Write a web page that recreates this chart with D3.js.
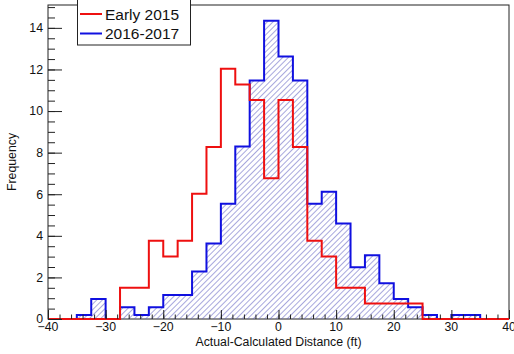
<!DOCTYPE html>
<html lang="en">
<head>
    <meta charset="UTF-8">
    <title>Actual-Calculated Distance</title>
    <script src="https://d3js.org/d3.v7.min.js"></script>
    <style>
        body{
            margin: 0;
            background: #fff;
        }
        svg text{
            font-family: "Liberation Sans", Arial, Helvetica, sans-serif;
            fill: #111;
        }
    </style>
</head>
<body>
    <div id="chart"></div>

    <script>
        // bins are 2.5 ft wide, from -40 to 40 (lower edge of each bin)
        const binWidth = 2.5;
        const binLow = d3.range(-40, 40, binWidth);

        // frequencies, one per bin
        const early2015 = [0, 0, 0, 0, 0, 1.50, 1.50, 3.76, 3.01, 3.76, 6.02, 8.27, 12.03, 11.28, 10.53, 6.77,
                           10.53, 8.27, 3.76, 3.01, 1.50, 1.50, 0.75, 0.75, 0.75, 0.75, 0, 0, 0, 0, 0, 0];
        const y2016_2017 = [0, 0, 0.19, 0.96, 0, 0.57, 0.19, 0.57, 1.15, 1.15, 2.29, 3.63, 5.54, 8.30, 11.47, 14.34,
                            12.62, 11.47, 5.54, 6.12, 4.59, 2.49, 3.06, 1.72, 0.96, 0.57, 0.19, 0, 0.19, 0.19, 0, 0];

        const seriesNames = ["Early 2015", "2016-2017"];
        const xTicks = [-40, -30, -20, -10, 0, 10, 20, 30, 40];
        const yTicks = [0, 2, 4, 6, 8, 10, 12, 14];

        const width = 514;
        const height = 354;
        const frame = {left: 48, right: 509, top: 5, bottom: 319};

        const x = d3.scaleLinear().domain([-40, 40]).range([frame.left, frame.right]);
        const y = d3.scaleLinear().domain([0, 15.1]).range([frame.bottom, frame.top]);

        const svg = d3.select('#chart')
            .append('svg')
            .attr('width', width)
            .attr('height', height);

        // hatch pattern for the 2016-2017 histogram
        const pattern = svg.append('defs')
            .append('pattern')
            .attr('id', 'hatch')
            .attr('patternUnits', 'userSpaceOnUse')
            .attr('width', 4)
            .attr('height', 4)
            .attr('patternTransform', 'rotate(45)');
        pattern.append('line')
            .attr('x1', 0).attr('y1', 0)
            .attr('x2', 0).attr('y2', 4)
            .attr('stroke', '#5e5ec0')
            .attr('stroke-width', 1.1);

        // turn bin values into step points (last edge repeats the last value)
        function stepPoints(values) {
            const pts = binLow.map((b, i) => ({edge: b, v: values[i]}));
            pts.push({edge: 40, v: values[values.length - 1]});
            return pts;
        }

        const area = d3.area()
            .x(d => x(d.edge))
            .y0(y(0))
            .y1(d => y(d.v))
            .curve(d3.curveStepAfter);

        const line = d3.line()
            .x(d => x(d.edge))
            .y(d => y(d.v))
            .curve(d3.curveStepAfter);

        // frame
        svg.append('rect')
            .attr('x', frame.left)
            .attr('y', frame.top)
            .attr('width', frame.right - frame.left)
            .attr('height', frame.bottom - frame.top)
            .attr('fill', 'none')
            .attr('stroke', '#222')
            .attr('stroke-width', 1);

        // 2016-2017: hatched fill + blue outline
        svg.append('path')
            .datum(stepPoints(y2016_2017))
            .attr('d', area)
            .attr('fill', 'url(#hatch)');

        svg.append('path')
            .datum(stepPoints(y2016_2017))
            .attr('d', line)
            .attr('fill', 'none')
            .attr('stroke', '#1010e0')
            .attr('stroke-width', 2);

        // Early 2015: red outline on top
        svg.append('path')
            .datum(stepPoints(early2015))
            .attr('d', line)
            .attr('fill', 'none')
            .attr('stroke', '#ee1010')
            .attr('stroke-width', 2);

        // x axis: ticks pointing up into the frame
        svg.append('g')
            .attr('transform', `translate(0,${frame.bottom})`)
            .call(d3.axisTop(x).tickValues(xTicks).tickSize(9).tickFormat(''))
            .call(g => g.select('.domain').remove())
            .call(g => g.selectAll('line').attr('stroke', '#222'));

        svg.append('g')
            .attr('transform', `translate(0,${frame.bottom})`)
            .call(d3.axisTop(x).tickValues(d3.range(-40, 40.1, 2)).tickSize(4.5).tickFormat(''))
            .call(g => g.select('.domain').remove())
            .call(g => g.selectAll('line').attr('stroke', '#222'));

        svg.append('g')
            .selectAll('text')
            .data(xTicks)
            .enter().append('text')
            .attr('x', d => x(d))
            .attr('y', 331)
            .attr('text-anchor', 'middle')
            .style('font-size', '12.3px')
            .text(d => d < 0 ? '\u2212' + Math.abs(d) : d);

        // y axis: ticks pointing right into the frame
        svg.append('g')
            .attr('transform', `translate(${frame.left},0)`)
            .call(d3.axisRight(y).tickValues(yTicks).tickSize(14).tickFormat(''))
            .call(g => g.select('.domain').remove())
            .call(g => g.selectAll('line').attr('stroke', '#222'));

        svg.append('g')
            .attr('transform', `translate(${frame.left},0)`)
            .call(d3.axisRight(y).tickValues(d3.range(0, 15.01, 0.5)).tickSize(7).tickFormat(''))
            .call(g => g.select('.domain').remove())
            .call(g => g.selectAll('line').attr('stroke', '#222'));

        svg.append('g')
            .selectAll('text')
            .data(yTicks)
            .enter().append('text')
            .attr('x', 43)
            .attr('y', d => y(d) + 4.3)
            .attr('text-anchor', 'end')
            .style('font-size', '12.3px')
            .text(d => d);

        // axis titles
        svg.append('text')
            .attr('x', (frame.left + frame.right) / 2)
            .attr('y', 346)
            .attr('text-anchor', 'middle')
            .style('font-size', '12.3px')
            .text('Actual-Calculated Distance (ft)');

        svg.append('text')
            .attr('transform', `translate(16,${(frame.top + frame.bottom) / 2}) rotate(-90)`)
            .attr('text-anchor', 'middle')
            .style('font-size', '12.3px')
            .text('Frequency');

        // legend
        const legend = svg.append('g');
        legend.append('rect')
            .attr('x', 77.5)
            .attr('y', -1)
            .attr('width', 113)
            .attr('height', 46)
            .attr('fill', '#fff')
            .attr('stroke', '#222')
            .attr('stroke-width', 1);

        const legendColors = ['#ee1010', '#1010e0'];
        seriesNames.forEach((name, i) => {
            const ly = 14 + i * 19.5;
            legend.append('line')
                .attr('x1', 80).attr('x2', 102)
                .attr('y1', ly).attr('y2', ly)
                .attr('stroke', legendColors[i])
                .attr('stroke-width', 2);
            legend.append('text')
                .attr('x', 105)
                .attr('y', ly + 5.5)
                .style('font-size', '15.5px')
                .text(name);
        });
    </script>
</body>
</html>
